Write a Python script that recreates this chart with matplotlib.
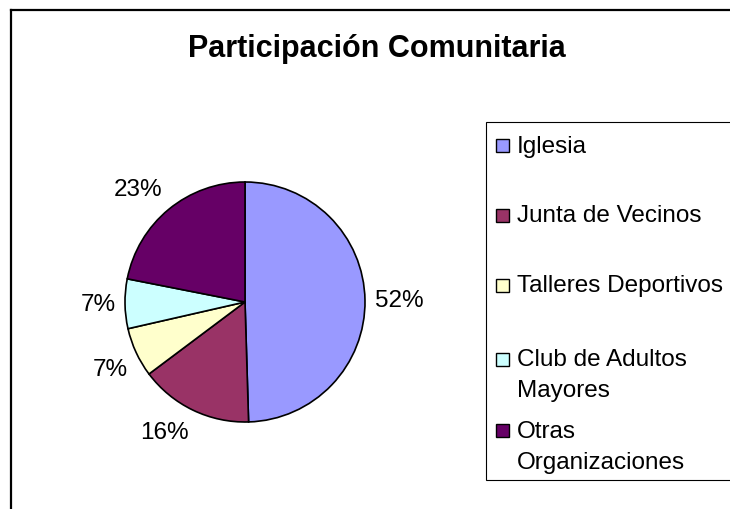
import matplotlib
matplotlib.use("Agg")
import matplotlib.pyplot as plt
import numpy as np
from matplotlib.lines import Line2D
from matplotlib.patches import Rectangle

categorias = ['Iglesia', 'Junta de Vecinos', 'Talleres Deportivos',
              'Club de Adultos Mayores', 'Otras Organizaciones']
lineas_leyenda = [['Iglesia'], ['Junta de Vecinos'], ['Talleres Deportivos'],
                  ['Club de Adultos', 'Mayores'], ['Otras', 'Organizaciones']]
valores = [52, 16, 7, 7, 23]  # porcentajes mostrados (suman 105)
colores = ['#9999FF', '#993366', '#FFFFCC', '#CCFFFF', '#660066']

plt.rcParams['font.family'] = ['Liberation Sans', 'DejaVu Sans']

W, H = 730, 510
fig = plt.figure(figsize=(W / 100, H / 100), dpi=100)

def fx(px):
    return px / W

def fy(py):
    return 1 - py / H

# marco del grafico (solo lados izquierdo y superior visibles)
fig.add_artist(Line2D([fx(11), fx(11)], [fy(11), fy(H + 5)], color='black', lw=1.6))
fig.add_artist(Line2D([fx(11), fx(W + 5)], [fy(11), fy(11)], color='black', lw=1.6))

fig.text(fx(377), fy(57), 'Participación Comunitaria', ha='center', va='baseline',
         fontsize=22, fontweight='bold')

# torta: centro (245, 303) px, radio 120 px
cx, cy, r = 245, 303, 120
half = r * 1.25
ax = fig.add_axes([fx(cx - half), fy(cy + half), 2 * half / W, 2 * half / H])
wedges, textos = ax.pie(valores, colors=colores, startangle=90, counterclock=False,
                        labels=[f'{v}%' for v in valores], labeldistance=1.1,
                        wedgeprops=dict(edgecolor='black', linewidth=1.2),
                        textprops=dict(fontsize=17.5))
ax.set_aspect('equal')

# etiquetas fuera de la torta, como en Excel
renderer = fig.canvas.get_renderer()
for w, t in zip(wedges, textos):
    ang = np.deg2rad((w.theta1 + w.theta2) / 2)
    dx, dy = np.cos(ang), np.sin(ang)
    hw = t.get_window_extent(renderer).width / 2
    hh = 13
    px = r * 1.08 * dx + hw * np.clip(dx * 2.5, -1, 1)
    py = r * 1.08 * dy + hh * np.clip(dy * 2.5, -1, 1)
    t.set_position((px / r, py / r))
    t.set_ha('center')
    t.set_va('center')

# leyenda manual
box_left, box_top, box_bottom = 486, 123, 481
fig.add_artist(Rectangle((fx(box_left), fy(box_bottom)), fx(W + 10 - box_left),
                         (box_bottom - box_top) / H, facecolor='white',
                         edgecolor='black', lw=0.8))
baselines = [152.5, 222.5, 292.5, 366.5, 438]
paso = 31
for lineas, color, yb in zip(lineas_leyenda, colores, baselines):
    fig.add_artist(Rectangle((fx(496), fy(yb)), 13 / W, 13 / H,
                             facecolor=color, edgecolor='black', lw=1.0))
    for i, linea in enumerate(lineas):
        fig.text(fx(517), fy(yb + i * paso), linea, ha='left', va='baseline',
                 fontsize=17.5)

fig.savefig('out.png', dpi=100)
